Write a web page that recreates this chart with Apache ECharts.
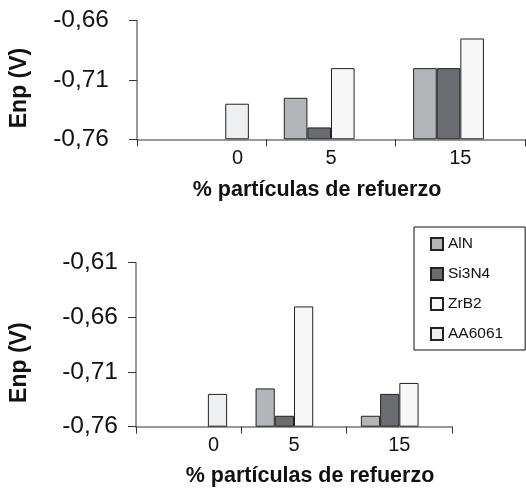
<!DOCTYPE html>
<html>
<head>
<meta charset="utf-8">
<script src="https://cdn.jsdelivr.net/npm/echarts@6/dist/echarts.min.js"></script>
<style>
html,body{margin:0;padding:0;background:#fff;}
#chart{width:526px;height:490px;}
</style>
</head>
<body>
<div id="chart"></div>
<script>
var categories = ['0', '5', '15'];
var seriesNames = ['AlN', 'Si3N4', 'ZrB2', 'AA6061'];
// Top chart values (Enp, V)
var topAlN    = [null, -0.725, -0.700];
var topSi3N4  = [null, -0.750, -0.700];
var topZrB2   = [null, -0.700, -0.675];
var topAA6061 = [-0.730, null, null];
// Bottom chart values (Enp, V)
var botAlN    = [null, -0.725, -0.750];
var botSi3N4  = [null, -0.750, -0.730];
var botZrB2   = [null, -0.650, -0.720];
var botAA6061 = [-0.730, null, null];
var topTicks = [-0.76, -0.71, -0.66];
var botTicks = [-0.76, -0.71, -0.66, -0.61];
var xTitle = '% partículas de refuerzo';
var yTitle = 'Enp (V)';

var colors = ['#b3b5b9', '#6a6c70', '#f7f7f7', '#eeeff1'];
var FONT = "'Liberation Sans', Arial, sans-serif";

function fmt(v) { return v.toFixed(2).replace('.', ','); }

function xAxisCfg(gridIndex, pad0, gap, namePad) {
  return {
    type: 'category', gridIndex: gridIndex,
    data: categories.map(function (c, i) {
      return i === 0 ? { value: c, textStyle: { padding: [0, 0, 0, pad0] } } : c;
    }),
    axisLine: { lineStyle: { color: '#777', width: 1.5 } },
    axisTick: { show: true, length: 7, lineStyle: { color: '#333', width: 1 } },
    axisLabel: { fontSize: 20, color: '#111', fontFamily: FONT, margin: 9 },
    name: xTitle, nameLocation: 'middle', nameGap: gap,
    nameTextStyle: { fontSize: 21.5, fontWeight: 'bold', color: '#111', fontFamily: FONT, padding: namePad }
  };
}
function yAxisCfg(gridIndex, ticks, margin, gap, namePad) {
  return {
    type: 'value', gridIndex: gridIndex,
    min: ticks[0], max: ticks[ticks.length - 1], startValue: ticks[0],
    axisLine: { show: true, lineStyle: { color: '#777', width: 1.5 } },
    axisTick: { show: true, length: 8, customValues: ticks, lineStyle: { color: '#333', width: 1 } },
    axisLabel: { fontSize: 24.5, color: '#111', fontFamily: FONT, margin: margin, customValues: ticks, formatter: fmt },
    splitLine: { show: false },
    name: yTitle, nameLocation: 'middle', nameGap: gap, nameRotate: 90,
    nameTextStyle: { fontSize: 23, fontWeight: 'bold', color: '#111', fontFamily: FONT, padding: namePad }
  };
}
function mk(name, idx, data, g) {
  return {
    name: name, type: 'bar', xAxisIndex: g, yAxisIndex: g, data: data,
    barGap: '0%', barCategoryGap: '27%',
    itemStyle: { color: colors[idx], borderColor: '#222', borderWidth: 1 },
    emphasis: { disabled: true }, animation: false
  };
}

var chart = echarts.init(document.getElementById('chart'), null, { renderer: 'canvas' });
chart.setOption({
  animation: false,
  backgroundColor: '#fff',
  grid: [
    { left: 133, right: 1, top: 20.7, height: 118.6, containLabel: false },
    { left: 132, right: 74, top: 262.7, height: 164, containLabel: false }
  ],
  legend: {
    orient: 'vertical', left: 414, top: 227,
    data: seriesNames,
    icon: 'rect', itemWidth: 12, itemHeight: 12, itemGap: 14,
    padding: [9, 22, 8, 16],
    borderColor: '#111', borderWidth: 1,
    textStyle: { fontSize: 15.5, color: '#111', fontFamily: FONT },
    selectedMode: false
  },
  xAxis: [xAxisCfg(0, 72, 40, [0, 28, 0, 0]), xAxisCfg(1, 50, 38, [0, 0, 0, 32])],
  yAxis: [yAxisCfg(0, topTicks, 28, 106, [0, 16, 0, 0]), yAxisCfg(1, botTicks, 18, 105, [0, 36, 0, 0])],
  series: [
    mk('AlN', 0, topAlN, 0), mk('Si3N4', 1, topSi3N4, 0), mk('ZrB2', 2, topZrB2, 0), mk('AA6061', 3, topAA6061, 0),
    mk('AlN', 0, botAlN, 1), mk('Si3N4', 1, botSi3N4, 1), mk('ZrB2', 2, botZrB2, 1), mk('AA6061', 3, botAA6061, 1)
  ]
});
</script>
</body>
</html>
